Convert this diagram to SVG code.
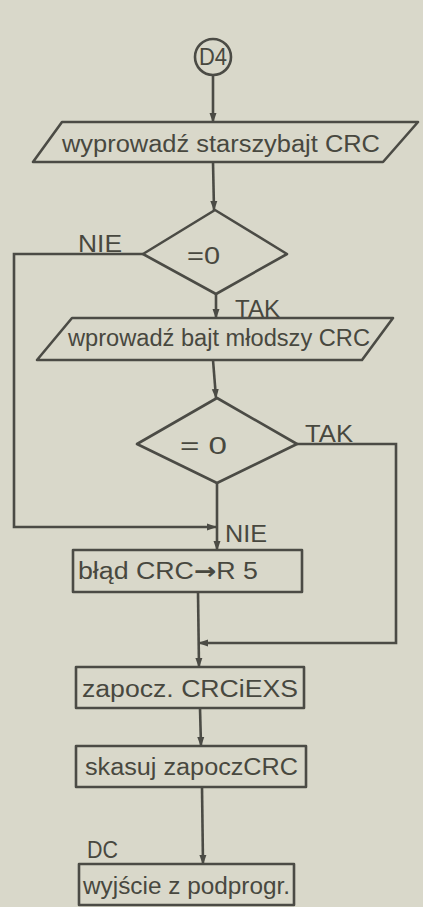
<svg xmlns="http://www.w3.org/2000/svg" width="423" height="907" viewBox="0 0 423 907">
<defs>
<style>
.s{fill:none;stroke:#4b4b45;stroke-width:2.6;stroke-linejoin:round}
.t{font-family:"Liberation Sans",Arial,sans-serif;fill:#48483f;font-size:23px}
.c{stroke:#4b4b45;stroke-width:2.6;fill:none}
</style>
<marker id="ah" markerWidth="10" markerHeight="8" refX="9" refY="4" orient="auto" markerUnits="userSpaceOnUse">
<path d="M0,0.5 L10,4 L0,7.5 Z" fill="#4b4b45"/>
</marker>
</defs>
<rect width="423" height="907" fill="#d9d8ca"/>
<g id="connectors">
<line class="c" x1="213" y1="75" x2="213" y2="122" marker-end="url(#ah)"/>
<line class="c" x1="213" y1="162" x2="214" y2="210" marker-end="url(#ah)"/>
<line class="c" x1="216" y1="294" x2="216" y2="318" marker-end="url(#ah)"/>
<line class="c" x1="213" y1="360" x2="216" y2="398" marker-end="url(#ah)"/>
<polyline class="c" points="143,254 14,254 14,527 216,527" marker-end="url(#ah)"/>
<line class="c" x1="217" y1="483" x2="217" y2="550" marker-end="url(#ah)"/>
<polyline class="c" points="297,444 396,444 396,643 199,643" marker-end="url(#ah)"/>
<line class="c" x1="198" y1="592" x2="199" y2="667" marker-end="url(#ah)"/>
<line class="c" x1="200" y1="708" x2="201" y2="746" marker-end="url(#ah)"/>
<line class="c" x1="202" y1="787" x2="203" y2="864" marker-end="url(#ah)"/>
<text class="t" x="78" y="252" textLength="44" lengthAdjust="spacingAndGlyphs">NIE</text>
<text class="t" x="235" y="317" textLength="45" lengthAdjust="spacingAndGlyphs">TAK</text>
<text class="t" x="305" y="442" textLength="48" lengthAdjust="spacingAndGlyphs">TAK</text>
<text class="t" x="225" y="542" textLength="42" lengthAdjust="spacingAndGlyphs">NIE</text>
<text class="t" x="87" y="858" textLength="31" lengthAdjust="spacingAndGlyphs">DC</text>
</g>
<g id="start">
<circle class="s" cx="213" cy="57" r="18"/>
<text class="t" x="213" y="65" text-anchor="middle" font-size="21" textLength="28" lengthAdjust="spacingAndGlyphs">D4</text>
</g>
<g id="out1">
<polygon class="s" points="62,122 418,122 383,162 33,162"/>
<text class="t" x="62" y="152" textLength="318" lengthAdjust="spacingAndGlyphs">wyprowadź starszybajt CRC</text>
</g>
<g id="dec1">
<polygon class="s" points="215,210 287,254 216,294 143,254"/>
<text class="t" x="187" y="264" font-size="30" textLength="33" lengthAdjust="spacingAndGlyphs">=0</text>
</g>
<g id="in2">
<polygon class="s" points="72,318 393,318 362,360 37,360"/>
<text class="t" x="68" y="346" textLength="302" lengthAdjust="spacingAndGlyphs">wprowadź bajt młodszy CRC</text>
</g>
<g id="dec2">
<polygon class="s" points="217,398 297,444 217,483 137,444"/>
<text class="t" x="180" y="454" font-size="30" textLength="47" lengthAdjust="spacingAndGlyphs">= 0</text>
</g>
<g id="err">
<rect class="s" x="73" y="550" width="229" height="42"/>
<text class="t" x="78" y="579" textLength="180" lengthAdjust="spacingAndGlyphs">błąd CRC<tspan font-family="DejaVu Sans, sans-serif" font-weight="bold">→</tspan>R 5</text>
</g>
<g id="init">
<rect class="s" x="76" y="667" width="228" height="41"/>
<text class="t" x="82" y="697" textLength="216" lengthAdjust="spacingAndGlyphs">zapocz. CRCiEXS</text>
</g>
<g id="clear">
<rect class="s" x="76" y="746" width="230" height="41"/>
<text class="t" x="85" y="775" textLength="213" lengthAdjust="spacingAndGlyphs">skasuj zapoczCRC</text>
</g>
<g id="exit">
<rect class="s" x="79" y="864" width="215" height="41"/>
<text class="t" x="83" y="894" textLength="207" lengthAdjust="spacingAndGlyphs">wyjście z podprogr.</text>
</g>
</svg>
